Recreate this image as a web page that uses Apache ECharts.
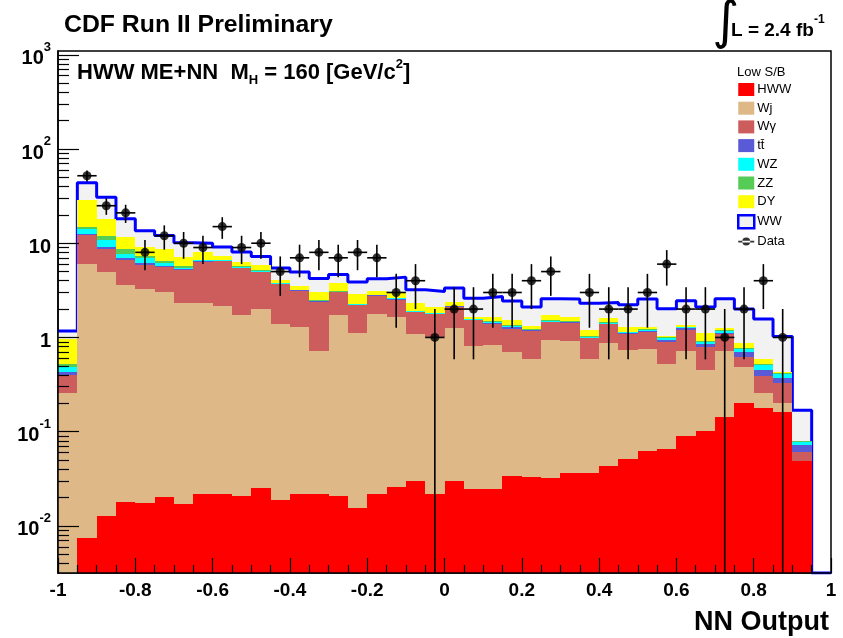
<!DOCTYPE html>
<html>
<head>
<meta charset="utf-8">
<title>HWW ME+NN output, low S/B</title>
<script src="https://cdn.jsdelivr.net/npm/echarts@6/dist/echarts.min.js"></script>
<style>
  html, body { margin: 0; padding: 0; background: #ffffff; }
  #chart { width: 843px; height: 638px; }
</style>
</head>
<body>
<div id="chart"></div>
<script>
// Binning of the NN output: 40 bins of width 0.05 on [-1, 1]
const X_LOW = -1;
const BIN_WIDTH = 0.05;
const N_BINS = 40;

// Expected events per bin, one array per process
const hww    = [0.002, 0.0074, 0.0127, 0.018, 0.0177, 0.0205, 0.017, 0.022, 0.022, 0.021,
                0.025, 0.019, 0.022, 0.022, 0.021, 0.0156, 0.022, 0.026, 0.030, 0.022,
                0.030, 0.0245, 0.0245, 0.034, 0.033, 0.032, 0.036, 0.036, 0.043, 0.051,
                0.063, 0.065, 0.090, 0.102, 0.144, 0.201, 0.179, 0.163, 0.0486, 0];
const wj     = [0.253, 5.99, 4.89, 3.58, 3.26, 2.98, 2.29, 2.29, 2.11, 1.72,
                1.97, 1.37, 1.26, 0.70, 1.72, 1.09, 1.76, 1.61, 1.05, 1.00,
                1.22, 0.79, 0.81, 0.67, 0.56, 0.91, 0.88, 0.55, 0.82, 0.69,
                0.70, 0.455, 0.634, 0.349, 0.58, 0.281, 0.080, 0.040, 0.0004, 0];
const wgamma = [0.145, 6.1, 3.8, 3.0, 2.62, 2.6, 2.89, 4.05, 4.37, 3.71,
                2.9, 2.29, 1.84, 1.68, 1.29, 1.09, 0.98, 0.86, 0.77, 0.75,
                0.85, 0.71, 0.55, 0.54, 0.58, 0.50, 0.52, 0.39, 0.51, 0.35,
                0.38, 0.38, 0.48, 0.347, 0.366, 0.143, 0.13, 0.123, 0.012, 0];
const ttbar  = [0.026, 0.4, 0.4, 0.3, 0.25, 0.2, 0.1, 0.06, 0.05, 0.05,
                0.1, 0.04, 0.04, 0.03, 0.02, 0.02, 0.03, 0.06, 0.03, 0.02,
                0.03, 0.02, 0.03, 0.04, 0.02, 0.03, 0.02, 0.02, 0.03, 0.02,
                0.04, 0.04, 0.05, 0.055, 0.03, 0.081, 0.062, 0.047, 0.011, 0];
const wz     = [0.064, 1.7, 1.6, 0.8, 0.8, 0.35, 0.2, 0.14, 0.1, 0.1,
                0.1, 0.05, 0.04, 0.03, 0.02, 0.03, 0.04, 0.05, 0.03, 0.02,
                0.03, 0.02, 0.05, 0.04, 0.01, 0.03, 0.01, 0.02, 0.03, 0.02,
                0.03, 0.04, 0.03, 0.047, 0.05, 0.043, 0.059, 0.036, 0.006, 0];
const zz     = [0.03, 0.5, 1.1, 1.0, 0.45, 0.25, 0.2, 0.1, 0.05, 0.06,
                0.05, 0.03, 0.02, 0.02, 0.02, 0.02, 0.02, 0.02, 0.02, 0.02,
                0.02, 0.02, 0.02, 0.02, 0.02, 0.02, 0.02, 0.02, 0.02, 0.02,
                0.02, 0.02, 0.02, 0.02, 0.02, 0.021, 0.015, 0.011, 0.001, 0];
const dy     = [0.44, 14.3, 6.3, 2.9, 1.7, 2.3, 1.4, 1.5, 0.7, 0.7,
                0.75, 0.29, 0.31, 0.59, 0.68, 0.61, 0.27, 0.32, 0.38, 0.27,
                0.22, 0.07, 0.17, 0.18, 0.11, 0.19, 0.15, 0.16, 0.16, 0.13,
                0.06, 0.04, 0.04, 0.19, 0.08, 0.097, 0.061, 0.013, 0.001, 0];
const ww     = [0.21, 14.7, 12.6, 6.6, 4.5, 3.4, 3.0, 1.8, 1.7, 1.7,
                1.34, 1.36, 1.41, 1.15, 0.89, 0.99, 1.07, 1.42, 0.89, 0.97,
                0.94, 0.95, 1.06, 0.91, 0.77, 0.86, 0.93, 1.11, 0.73, 0.94,
                1.27, 0.97, 1.10, 0.99, 1.30, 1.14, 0.98, 0.59, 0.089, 0];

// Observed events per bin
const observed = [0, 52, 25, 21, 8, 12, 10, 9, 15, 9,
                  10, 5, 7, 8, 7, 8, 7, 3, 4, 1,
                  2, 2, 3, 3, 4, 5, 0, 3, 2, 2,
                  3, 6, 2, 2, 1, 2, 4, 1, 0, 0];

// Axis decades and x tick labels
const yDecades = [-2, -1, 0, 1, 2, 3];
const xTicks = [-1, -0.8, -0.6, -0.4, -0.2, 0, 0.2, 0.4, 0.6, 0.8, 1];

const Y_MIN = Math.pow(10, -2.5);
const Y_MAX = Math.pow(10, 3.04);
const FONT = '"Liberation Sans", Arial, Helvetica, sans-serif';

const binLow = i => X_LOW + i * BIN_WIDTH;
const bins = Array.from({ length: N_BINS }, (_, i) => i);

// Processes stacked from the bottom up
const processes = [
  { name: 'HWW', values: hww,    color: '#ff0000' },
  { name: 'Wj',  values: wj,     color: '#deb887' },
  { name: 'Wγ',  values: wgamma, color: '#cd5c5c' },
  { name: 'tt\u0304', values: ttbar, color: '#5a5ad7' },
  { name: 'WZ',  values: wz,     color: '#00ffff' },
  { name: 'ZZ',  values: zz,     color: '#55cc55' },
  { name: 'DY',  values: dy,     color: '#ffff00' },
  { name: 'WW',  values: ww,     color: '#f2f2f2' }
];

const running = bins.map(() => 0);
const stackSeries = processes.map(p => {
  const items = bins.map(i => {
    const lo = running[i];
    const hi = lo + p.values[i];
    running[i] = hi;
    return [binLow(i), binLow(i + 1), lo, hi];
  });
  return {
    type: 'custom',
    name: p.name,
    coordinateSystem: 'cartesian2d',
    itemStyle: { color: p.color },
    encode: { x: [0, 1], y: [2, 3] },
    silent: true,
    // the top band sits under its outline, the rest cover the outline's vertical steps
    z: p.name === 'WW' ? 1 : 3,
    renderItem: (params, api) => {
      const lo = Math.max(api.value(2), Y_MIN);
      const hi = Math.min(api.value(3), Y_MAX);
      if (!(hi > lo)) return null;
      const a = api.coord([api.value(0), hi]);
      const b = api.coord([api.value(1), lo]);
      const L = Math.round(a[0]), R = Math.round(b[0]);
      const T = Math.round(a[1]), B = Math.round(b[1]);
      if (B <= T) return null;
      return { type: 'rect', shape: { x: L, y: T, width: R - L, height: B - T },
               style: { fill: p.color } };
    },
    data: items
  };
});

// Total expectation outline
const total = running.slice();
const outline = bins.map(i => [binLow(i), Math.max(total[i], Y_MIN)]);
outline.push([binLow(N_BINS), Math.max(total[N_BINS - 1], Y_MIN)]);

// Observed points with sqrt(N) errors
const dataPts = bins.filter(i => observed[i] > 0)
                    .map(i => [binLow(i) + BIN_WIDTH / 2, observed[i]]);

const chart = echarts.init(document.getElementById('chart'), null, { renderer: 'canvas' });

const supLabel = v => {
  const e = Math.round(Math.log10(v));
  if (e === 0) return '{b|1}';
  if (e === 1) return '{b|10}';
  return '{b|10}{s|' + e + '}';
};

const minorY = [];
for (let d = -3; d <= 2; d++) {
  for (let m = 2; m <= 9; m++) {
    const v = m * Math.pow(10, d);
    if (v > Y_MIN && v < Y_MAX) minorY.push(v);
  }
}

chart.setOption({
  animation: false,
  backgroundColor: '#ffffff',
  grid: {
    left: 58, right: 12, top: 51, bottom: 65,
    show: true, borderColor: '#000000', borderWidth: 1.5,
    backgroundColor: 'transparent',
    outerBoundsMode: 'none', containLabel: false
  },
  xAxis: [{
    type: 'value', min: -1, max: 1, interval: 0.2, z: 10,
    axisLine: { show: true, onZero: false, lineStyle: { color: '#000', width: 1.5 } },
    axisTick: { show: true, inside: true, length: 15, lineStyle: { color: '#000', width: 1.2 } },
    minorTick: { show: true, splitNumber: 4, length: 8, lineStyle: { color: '#000', width: 1.2 } },
    splitLine: { show: false },
    axisLabel: {
      show: true, margin: 8, color: '#000', fontFamily: FONT, fontWeight: 'bold', fontSize: 19,
      customValues: xTicks,
      formatter: v => String(Math.round(v * 10) / 10)
    }
  }],
  yAxis: [{
    type: 'log', logBase: 10, min: Y_MIN, max: Y_MAX, position: 'left', offset: 0, z: 10,
    axisLine: { show: true, onZero: false, lineStyle: { color: '#000', width: 1.5 } },
    axisTick: { show: true, inside: true, length: 21,
                customValues: yDecades.map(e => Math.pow(10, e)),
                lineStyle: { color: '#000', width: 1.2 } },
    splitLine: { show: false },
    minorTick: { show: false },
    axisLabel: {
      show: true, margin: 7, color: '#000',
      customValues: yDecades.map(e => Math.pow(10, e)),
      formatter: supLabel,
      rich: {
        b: { fontFamily: FONT, fontWeight: 'bold', fontSize: 20, lineHeight: 28, verticalAlign: 'bottom', color: '#000' },
        s: { fontFamily: FONT, fontWeight: 'bold', fontSize: 13, lineHeight: 14, verticalAlign: 'top', color: '#000' }
      }
    }
  }, {
    type: 'log', logBase: 10, min: Y_MIN, max: Y_MAX, position: 'left', offset: 0, z: 10,
    axisLine: { show: false, onZero: false },
    axisTick: { show: true, inside: true, length: 11, customValues: minorY,
                lineStyle: { color: '#000', width: 1.2 } },
    axisLabel: { show: false },
    splitLine: { show: false }
  }],
  legend: {
    show: true, orient: 'vertical', left: 737, top: 83, padding: 0,
    itemWidth: 16, itemHeight: 13, itemGap: 5.7,
    symbolKeepAspect: true,
    selectedMode: false,
    textStyle: { fontFamily: FONT, fontSize: 13, color: '#000', padding: [0, 0, 0, -2] },
    data: [
      { name: 'HWW', icon: 'rect' },
      { name: 'Wj', icon: 'rect' },
      { name: 'Wγ', icon: 'rect' },
      { name: 'tt\u0304', icon: 'rect' },
      { name: 'WZ', icon: 'rect' },
      { name: 'ZZ', icon: 'rect' },
      { name: 'DY', icon: 'rect' },
      { name: 'WW', icon: 'rect', itemStyle: { color: '#f2f2f2', borderColor: '#0000ff', borderWidth: 2.5 } },
      { name: 'Data', icon: 'path://M0,3.2h16v1.6h-16z M8,4 m-4,0 a4,4 0 1,0 8,0 a4,4 0 1,0 -8,0z' }
    ]
  },
  graphic: [
    { type: 'text', left: 64, top: 13,
      style: { text: 'CDF Run II Preliminary', fontFamily: FONT, fontWeight: 'bold', fontSize: 24.8, fill: '#000' } },
    { type: 'text', left: 712, top: -2,
      style: { text: '\u222B', fontFamily: '"DejaVu Sans", sans-serif', fontSize: 52, fill: '#000' } },
    { type: 'text', left: 731, top: 14,
      style: { text: '{t|L = 2.4 fb}{s|-1}', rich: {
        t: { fontFamily: FONT, fontSize: 19, fontWeight: 'bold', lineHeight: 26, verticalAlign: 'bottom', fill: '#000' },
        s: { fontFamily: FONT, fontSize: 12, fontWeight: 'bold', lineHeight: 13, verticalAlign: 'top', fill: '#000' }
      } } },
    { type: 'text', left: 77, top: 58,
      style: { text: '{a|HWW ME+NN  M}{sub|H}{a| = 160 [GeV/c}{sup|2}{a|]}', rich: {
        a: { fontFamily: FONT, fontSize: 22, fontWeight: 'bold', lineHeight: 29, verticalAlign: 'middle', fill: '#000' },
        sub: { fontFamily: FONT, fontSize: 13, fontWeight: 'bold', lineHeight: 13, verticalAlign: 'bottom', fill: '#000' },
        sup: { fontFamily: FONT, fontSize: 13, fontWeight: 'bold', lineHeight: 13, verticalAlign: 'top', fill: '#000' }
      } } },
    { type: 'text', left: 737, top: 66,
      style: { text: 'Low S/B', fontFamily: FONT, fontSize: 13, fill: '#000' } },
    { type: 'text', right: 14, top: 609,
      style: { text: 'NN Output', fontFamily: FONT, fontWeight: 'bold', fontSize: 27, fill: '#000' } }
  ],
  series: stackSeries.concat([
    {
      type: 'line', name: 'WW outline', step: 'end', showSymbol: false, symbol: 'none',
      data: outline, clip: true, z: 2, silent: true,
      lineStyle: { color: '#0000ff', width: 3 }
    },
    {
      type: 'custom', name: 'Data errors', coordinateSystem: 'cartesian2d', z: 4, silent: true,
      encode: { x: 0, y: 1 },
      renderItem: (params, api) => {
        const xc = api.value(0), n = api.value(1), err = Math.sqrt(n);
        const lo = Math.max(n - err, Y_MIN), hi = n + err;
        const c = api.coord([xc, n]);
        const pl = api.coord([xc - BIN_WIDTH / 2, n]);
        const pr = api.coord([xc + BIN_WIDTH / 2, n]);
        const pt = api.coord([xc, hi]);
        const pb = api.coord([xc, lo]);
        const st = { stroke: '#000', lineWidth: 1.6 };
        return { type: 'group', children: [
          { type: 'line', shape: { x1: pl[0], y1: c[1], x2: pr[0], y2: c[1] }, style: st },
          { type: 'line', shape: { x1: c[0], y1: pt[1], x2: c[0], y2: pb[1] }, style: st }
        ] };
      },
      data: dataPts
    },
    {
      type: 'scatter', name: 'Data', symbol: 'circle', symbolSize: 9, z: 5, silent: true,
      itemStyle: { color: '#000000' },
      data: dataPts
    }
  ])
});
</script>
</body>
</html>
